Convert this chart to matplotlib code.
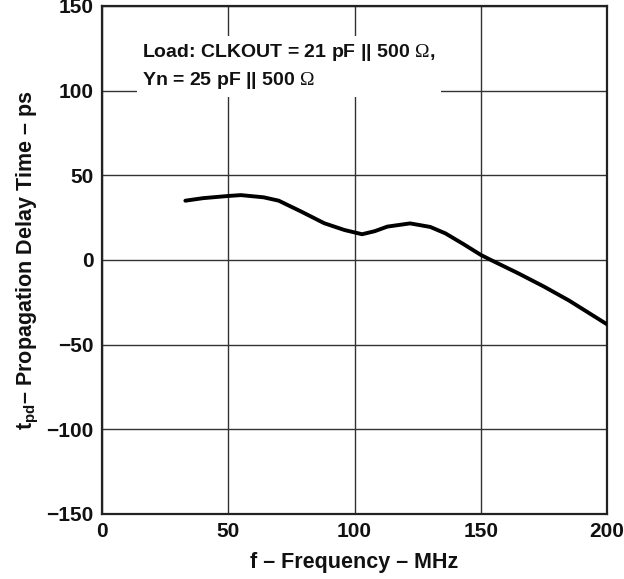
import matplotlib.pyplot as plt

plt.rcParams['font.family'] = ['Liberation Sans', 'DejaVu Sans']
plt.rcParams['mathtext.fontset'] = 'custom'
plt.rcParams['mathtext.rm'] = 'Liberation Serif'
plt.rcParams['mathtext.bf'] = 'Liberation Sans:bold'

# ==============================
# Data
# ==============================
freq_mhz = [33, 40, 50, 55, 64, 70, 79, 88, 96, 103, 108, 113, 122, 130, 136,
            143, 150, 154, 165, 175, 185, 200]
delay_ps = [35, 36.5, 37.8, 38.3, 37, 35, 28.5, 21.7, 17.7, 15.2, 17, 19.7, 21.6,
            19.5, 15.7, 9.5, 3, 0, -8, -15.7, -24, -38]

x_ticks = [0, 50, 100, 150, 200]
y_ticks = [-150, -100, -50, 0, 50, 100, 150]
y_tick_labels = ["\u2212150", "\u2212100", "\u221250", "0", "50", "100", "150"]

# ==============================
# Figure
# ==============================
fig = plt.figure(figsize=(6.24, 5.79), dpi=100)
ax = fig.add_axes([0.1635, 0.1123, 0.8093, 0.8774])

ax.plot(freq_mhz, delay_ps, color="black", linewidth=2.8, solid_capstyle="round", zorder=3)

ax.set_xlim(0, 200)
ax.set_ylim(-150, 150)
ax.set_xticks(x_ticks)
ax.set_yticks(y_ticks)
ax.set_yticklabels(y_tick_labels)
ax.tick_params(length=0, labelsize=15, pad=6)
for lbl in ax.get_xticklabels() + ax.get_yticklabels():
    lbl.set_fontweight("bold")
    lbl.set_color("#111111")

ax.grid(True, color="#333333", linewidth=1.0)
for s in ax.spines.values():
    s.set_linewidth(1.6)
    s.set_color("#222222")

ax.set_xlabel("f \u2013 Frequency \u2013 MHz", fontsize=15.5, fontweight="bold", labelpad=8,
              color="#111111")
ax.set_ylabel("t$_{\\mathbf{pd}}$\u2013 Propagation Delay Time \u2013 ps",
              fontsize=15.5, fontweight="bold", labelpad=4, color="#111111")

ax.text(16, 129, "Load: CLKOUT = 21 pF || 500 $\\Omega$,\nYn = 25 pF || 500 $\\Omega$",
        fontsize=14, fontweight="bold", va="top", ha="left", linespacing=1.5,
        color="#111111",
        bbox=dict(facecolor="white", edgecolor="none", pad=4), zorder=4)

fig.savefig("out.png", dpi=100)
